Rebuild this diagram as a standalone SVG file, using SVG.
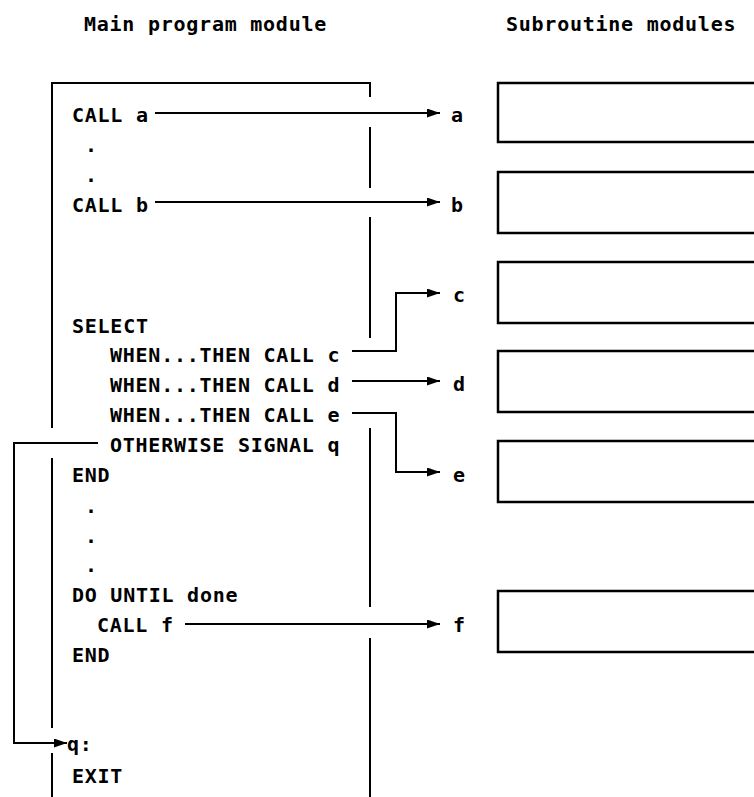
<svg xmlns="http://www.w3.org/2000/svg" width="754" height="797" viewBox="0 0 754 797">
<style>
text{font-family:"DejaVu Sans Mono","Liberation Mono",monospace;font-size:20px;font-weight:bold;letter-spacing:0.75px;fill:#000}
.t{letter-spacing:0.75px}
.ln{fill:none;stroke:#000;stroke-width:2}
.bx{fill:#fff;stroke:#000;stroke-width:2.5}
</style>
<defs>
<marker id="ah" markerUnits="userSpaceOnUse" markerWidth="14" markerHeight="10" refX="13" refY="4.5" orient="auto">
<path d="M0,0 L13,4.5 L0,9 z" fill="#000"/>
</marker>
</defs>
<g id="titles">
<text class="t" x="84" y="31">Main program module</text>
<text class="t" x="506" y="31">Subroutine modules</text>
</g>
<g id="main-module">
<path class="ln" d="M52,797 V753 M52,728 V458 M52,428 V83 H370 V97 M370,127 V188 M370,217 V338 M370,428 V607 M370,638 V797"/>
<text x="72" y="122">CALL a</text>
<text x="85" y="152">.</text>
<text x="85" y="182">.</text>
<text x="72" y="212">CALL b</text>
<text x="72" y="333">SELECT</text>
<text x="110" y="362">WHEN...THEN CALL c</text>
<text x="110" y="392">WHEN...THEN CALL d</text>
<text x="110" y="422">WHEN...THEN CALL e</text>
<text x="110" y="452">OTHERWISE SIGNAL q</text>
<text x="72" y="482">END</text>
<text x="85" y="513">.</text>
<text x="85" y="543">.</text>
<text x="85" y="572">.</text>
<text x="72" y="602">DO UNTIL done</text>
<text x="97" y="632">CALL f</text>
<text x="72" y="662">END</text>
<text x="67" y="751">q:</text>
<text x="72" y="783">EXIT</text>
</g>
<g id="sub-a"><rect class="bx" x="498" y="83" width="270" height="59"/><text x="451" y="122">a</text></g>
<g id="sub-b"><rect class="bx" x="498" y="172" width="270" height="61"/><text x="451" y="212">b</text></g>
<g id="sub-c"><rect class="bx" x="498" y="262" width="270" height="61"/><text x="453" y="302">c</text></g>
<g id="sub-d"><rect class="bx" x="498" y="351" width="270" height="61"/><text x="453" y="391">d</text></g>
<g id="sub-e"><rect class="bx" x="498" y="441" width="270" height="61"/><text x="453" y="482">e</text></g>
<g id="sub-f"><rect class="bx" x="498" y="591" width="270" height="61"/><text x="453" y="632">f</text></g>
<g id="connectors">
<path class="ln" d="M155,113 H440" marker-end="url(#ah)"/>
<path class="ln" d="M155,202 H440" marker-end="url(#ah)"/>
<path class="ln" d="M352,351 H396 V293 H440" marker-end="url(#ah)"/>
<path class="ln" d="M352,381 H440" marker-end="url(#ah)"/>
<path class="ln" d="M352,413 H396 V472 H440" marker-end="url(#ah)"/>
<path class="ln" d="M185,624 H440" marker-end="url(#ah)"/>
<path class="ln" d="M98,443 H14 V743 H67" marker-end="url(#ah)"/>
</g>
</svg>
